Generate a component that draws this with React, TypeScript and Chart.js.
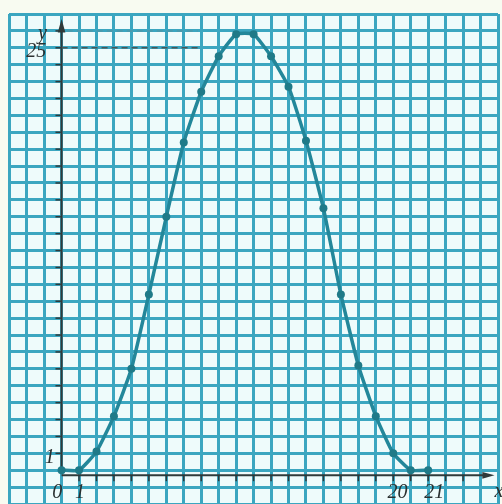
import React, { useEffect, useRef } from "react";
import { Chart, registerables } from "chart.js";

Chart.register(...registerables);

const xValues = [0, 1, 2, 3, 4, 5, 6, 7, 8, 9, 10, 11, 12, 13, 14, 15, 16, 17, 18, 19, 20, 21];
const yValues = [0, 0, 1.1, 3.2, 6.0, 10.4, 15.0, 19.4, 22.4, 24.5, 25.8, 25.8, 24.5, 22.7, 19.5, 15.5, 10.4, 6.2, 3.2, 1.0, 0, 0];
const xTickLabels = ["0", "1", "20", "21"];
const xTickValues = [0, 1, 20, 21];
const yTickLabels = ["1", "25"];
const yTickValues = [1, 25];

export default function App() {
  const ref = useRef<HTMLCanvasElement | null>(null);
  useEffect(() => {
    if (!ref.current) return;
    const font = 'italic 20px "Liberation Serif", serif';
    const paper = {
      id: "paper",
      beforeDraw(chart: any) {
        const { ctx, chartArea } = chart;
        ctx.save();
        ctx.fillStyle = "#f8fbf1";
        ctx.fillRect(0, 0, chart.width, chart.height);
        ctx.fillStyle = "#eefbfb";
        ctx.fillRect(chartArea.left, chartArea.top, chartArea.right - chartArea.left, chartArea.bottom - chartArea.top);
        ctx.restore();
      },
      beforeDatasetsDraw(chart: any) {
        const { ctx } = chart;
        const xs = chart.scales.x;
        const ys = chart.scales.y;
        const X = (v: number) => xs.getPixelForValue(v);
        const Y = (v: number) => ys.getPixelForValue(v);
        ctx.save();
        ctx.strokeStyle = "#2f3a3a";
        ctx.fillStyle = "#2f3a3a";
        ctx.lineWidth = 2;
        // y axis
        ctx.beginPath();
        ctx.moveTo(X(0), Y(-0.1));
        ctx.lineTo(X(0), Y(26.3));
        ctx.stroke();
        ctx.beginPath();
        ctx.moveTo(X(0), Y(26.7));
        ctx.lineTo(X(-0.22), Y(25.9));
        ctx.lineTo(X(0.22), Y(25.9));
        ctx.closePath();
        ctx.fill();
        // x axis
        ctx.beginPath();
        ctx.moveTo(X(0), Y(-0.3));
        ctx.lineTo(X(24.3), Y(-0.3));
        ctx.stroke();
        ctx.beginPath();
        ctx.moveTo(X(24.8), Y(-0.3));
        ctx.lineTo(X(24.1), Y(-0.1));
        ctx.lineTo(X(24.1), Y(-0.5));
        ctx.closePath();
        ctx.fill();
        // tick marks
        ctx.lineWidth = 1.5;
        for (let v = 1; v <= 26; v++) {
          ctx.beginPath();
          ctx.moveTo(X(-0.35), Y(v));
          ctx.lineTo(X(0), Y(v));
          ctx.stroke();
        }
        for (let v = 1; v <= 23; v++) {
          ctx.beginPath();
          ctx.moveTo(X(v), Y(-0.3));
          ctx.lineTo(X(v), Y(-0.65));
          ctx.stroke();
        }
        // dashed guide lines
        ctx.setLineDash([6, 4]);
        ctx.lineWidth = 1.5;
        ctx.strokeStyle = "#4a5656";
        ctx.beginPath();
        ctx.moveTo(X(0), Y(25));
        ctx.lineTo(X(7.8), Y(25));
        ctx.stroke();
        ctx.strokeStyle = "rgba(120,130,130,0.35)";
        ctx.beginPath();
        ctx.moveTo(X(0.3), Y(26));
        ctx.lineTo(X(7.8), Y(26));
        ctx.stroke();
        ctx.setLineDash([]);
        // labels
        ctx.font = font;
        ctx.fillStyle = "#2a3030";
        ctx.textAlign = "center";
        ctx.textBaseline = "middle";
        ctx.fillText("y", X(-1.1), Y(25.85));
        for (let i = 0; i < yTickLabels.length; i++) {
          const v = yTickValues[i];
          const off = yTickLabels[i].length > 1 ? -1.45 : -0.68;
          ctx.fillText(yTickLabels[i], X(off), Y(v - 0.25));
        }
        const xOff = [-0.25, 0.05, -0.75, 0.35];
        for (let i = 0; i < xTickLabels.length; i++) {
          ctx.fillText(xTickLabels[i], X(xTickValues[i] + xOff[i]), Y(-1.35));
        }
        ctx.fillText("x", X(25.05), Y(-1.3));
        ctx.restore();
      },
    };
    const chart = new Chart(ref.current, {
      type: "line",
      data: {
        datasets: [
          {
            data: xValues.map((x, i) => ({ x, y: yValues[i] })),
            borderColor: "#23879a",
            backgroundColor: "#1f7a88",
            borderWidth: 3.5,
            pointRadius: 4,
            pointBorderWidth: 0,
            tension: 0.15,
            fill: false,
          },
        ],
      },
      options: {
        responsive: false,
        animation: false,
        devicePixelRatio: 1,
        layout: { padding: { left: 9.2, top: 14, right: 0, bottom: 0 } },
        plugins: { legend: { display: false }, tooltip: { enabled: false } },
        scales: {
          x: {
            type: "linear",
            min: -3,
            max: 25,
            ticks: { display: false, stepSize: 1 },
            grid: { color: "#3ba6c0", lineWidth: 3, drawTicks: false },
            border: { display: false },
          },
          y: {
            type: "linear",
            min: -2,
            max: 27,
            ticks: { display: false, stepSize: 1 },
            grid: { color: "#3ba6c0", lineWidth: 3, drawTicks: false },
            border: { display: false },
          },
        },
      },
      plugins: [paper],
    });
    return () => chart.destroy();
  }, []);
  return (
    <div style={{ position: "fixed", left: 0, top: 0, width: 502, height: 504, overflow: "hidden", background: "#f8fbf1" }}>
      <canvas ref={ref} width={502} height={508} style={{ display: "block", width: 502, height: 508 }} />
    </div>
  );
}
